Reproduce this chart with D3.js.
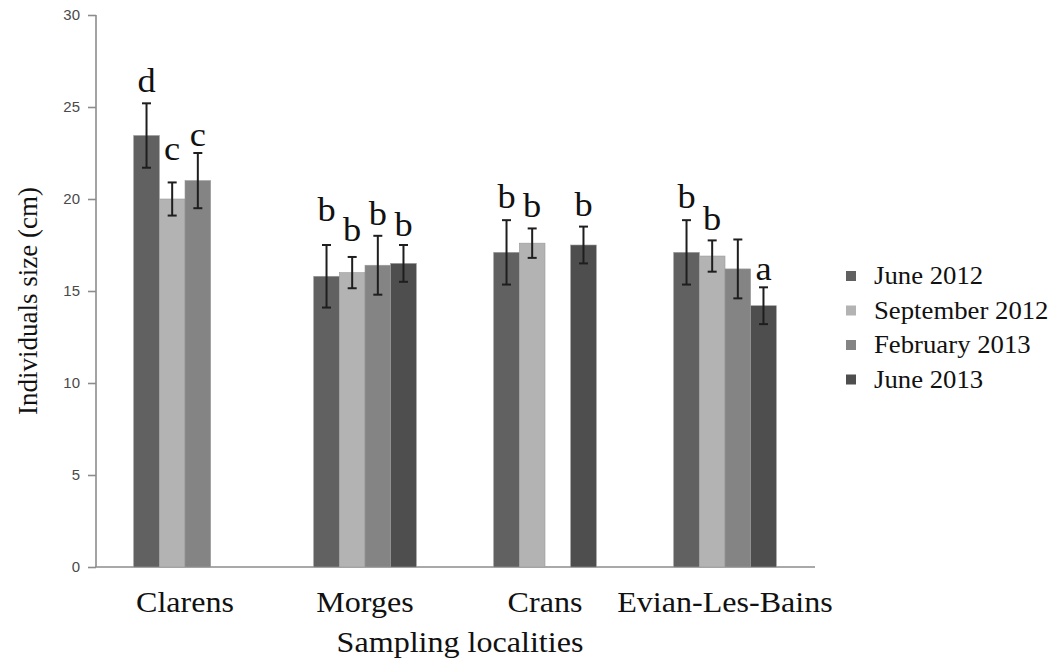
<!DOCTYPE html>
<html><head><meta charset="utf-8">
<script src="https://cdn.jsdelivr.net/npm/d3@7"></script>
<style>
body{margin:0;background:#fff}svg{display:block}
.serif{font-family:"Liberation Serif","Times New Roman",Times,serif}
.sans{font-family:"Liberation Sans",Arial,Helvetica,sans-serif}
</style>
</head><body>
<svg id="chart" width="1055" height="662"></svg>
<script>
const localities = ["Clarens", "Morges", "Crans", "Evian-Les-Bains"];
const seriesNames = ["June 2012", "September 2012", "February 2013", "June 2013"];
// means per series, in order of localities (null = not sampled)
const june2012 = [23.45, 15.8, 17.1, 17.1];
const sept2012 = [20.0, 16.0, 17.6, 16.9];
const feb2013  = [21.0, 16.4, null, 16.2];
const june2013 = [null, 16.5, 17.5, 14.2];
// error (+/-)
const errJune2012 = [1.75, 1.7, 1.75, 1.75];
const errSept2012 = [0.9, 0.85, 0.8, 0.85];
const errFeb2013  = [1.5, 1.6, null, 1.6];
const errJune2013 = [null, 1.0, 1.0, 1.0];
// significance letters and the value level where they sit
const letJune2012 = ["d", "b", "b", "b"];
const letSept2012 = ["c", "b", "b", "b"];
const letFeb2013  = ["c", "b", null, null];
const letJune2013 = [null, "b", "b", "a"];
const lvlJune2012 = [25.8, 18.8, 19.5, 19.5];
const lvlSept2012 = [22.1, 17.7, 19.0, 18.3];
const lvlFeb2013  = [22.9, 18.6, null, null];
const lvlJune2013 = [null, 18.0, 19.1, 15.6];
const yTicks = [0, 5, 10, 15, 20, 25, 30];
const colors = ["#616161", "#b3b3b3", "#848484", "#4e4e4e"];

const means = [june2012, sept2012, feb2013, june2013];
const errs = [errJune2012, errSept2012, errFeb2013, errJune2013];
const lets = [letJune2012, letSept2012, letFeb2013, letJune2013];
const lvls = [lvlJune2012, lvlSept2012, lvlFeb2013, lvlJune2013];

const records = [];
localities.forEach((loc, i) => {
  seriesNames.forEach((s, j) => {
    records.push({loc, s, j, v: means[j][i], e: errs[j][i], l: lets[j][i], lv: lvls[j][i]});
  });
});

const svg = d3.select("#chart");
const SX = 1.07;

const x0 = d3.scaleBand().domain(localities).range([95, 815]).paddingInner(0.43).paddingOuter(0.215);
const x1 = d3.scaleBand().domain(seriesNames).range([0, x0.bandwidth()]);
const y = d3.scaleLinear().domain([0, 30]).range([567, 15]);
const color = d3.scaleOrdinal().domain(seriesNames).range(colors);

// Y axis
const yAxis = svg.append("g").attr("transform", "translate(96,0)")
  .call(d3.axisLeft(y).tickValues(yTicks).tickSize(8).tickPadding(0).tickFormat(d3.format("d")));
yAxis.attr("font-family", null).attr("font-size", null);
yAxis.select(".domain").attr("stroke", "#8c8c8c").attr("stroke-width", 1.6).attr("d", `M0,${y(30)}V${y(0)}`);
yAxis.selectAll(".tick line").attr("stroke", "#8c8c8c").attr("stroke-width", 1.6);
yAxis.selectAll(".tick text").each(function(d) {
  d3.select(this).attr("x", null).attr("dy", null)
    .attr("transform", `translate(-16,0) scale(${SX},1)`)
    .attr("dominant-baseline", "central")
    .attr("class", "sans")
    .attr("font-size", 14).attr("fill", "#4a4a4a").attr("text-anchor", "end");
});

// X axis line
svg.append("line").attr("x1", 95).attr("x2", 815).attr("y1", y(0)).attr("y2", y(0))
  .attr("stroke", "#8c8c8c").attr("stroke-width", 1.6);

// bars
const valid = records.filter(d => d.v != null);
const bx = d => x0(d.loc) + x1(d.s);
svg.append("g").selectAll("rect").data(valid).join("rect")
  .attr("x", d => bx(d)).attr("width", x1.bandwidth())
  .attr("y", d => y(d.v)).attr("height", d => y(0) - y(d.v))
  .attr("fill", d => color(d.s)).attr("stroke", "#9a9a9a").attr("stroke-width", 0.6);

// error bars
const eg = svg.append("g").attr("stroke", "#1e1e1e").attr("stroke-width", 2);
valid.filter(d => d.e != null).forEach(d => {
  const cx = bx(d) + x1.bandwidth() / 2;
  eg.append("line").attr("x1", cx).attr("x2", cx).attr("y1", y(d.v + d.e)).attr("y2", y(d.v - d.e));
  eg.append("line").attr("x1", cx - 4.5).attr("x2", cx + 4.5).attr("y1", y(d.v + d.e)).attr("y2", y(d.v + d.e));
  eg.append("line").attr("x1", cx - 4.5).attr("x2", cx + 4.5).attr("y1", y(d.v - d.e)).attr("y2", y(d.v - d.e));
});

// letters
svg.append("g").selectAll("text").data(records.filter(d => d.l)).join("text")
  .attr("class", "serif")
  .attr("transform", d => `translate(${bx(d) + x1.bandwidth() / 2},${y(d.lv)}) scale(${SX},1)`)
  .attr("text-anchor", "middle").attr("font-size", 34).attr("fill", "#111")
  .text(d => d.l);

// x tick labels
svg.append("g").selectAll("text").data(localities).join("text")
  .attr("class", "serif")
  .attr("transform", d => `translate(${x0(d) + x0.bandwidth() / 2},612) scale(${SX},1)`)
  .attr("text-anchor", "middle").attr("font-size", 30).attr("fill", "#111")
  .text(d => d);

// axis titles
svg.append("text").attr("class", "serif").attr("transform", `translate(460,652) scale(${SX},1)`)
  .attr("text-anchor", "middle").attr("font-size", 30).attr("fill", "#111")
  .text("Sampling localities");
svg.append("text").attr("class", "serif").attr("transform", "translate(37,301) rotate(-90)")
  .attr("text-anchor", "middle").attr("font-size", 27).attr("fill", "#111")
  .text("Individuals size (cm)");

// legend
const lg = svg.append("g").selectAll("g").data(seriesNames).join("g")
  .attr("transform", (d, i) => `translate(846,${276 + i * 34.5})`);
lg.append("rect").attr("x", 0).attr("y", -5).attr("width", 10).attr("height", 10).attr("fill", d => color(d));
lg.append("text").attr("class", "serif").attr("transform", `translate(28,8) scale(${SX},1)`)
  .attr("font-size", 25).attr("fill", "#111").text(d => d);
</script>
</body></html>
